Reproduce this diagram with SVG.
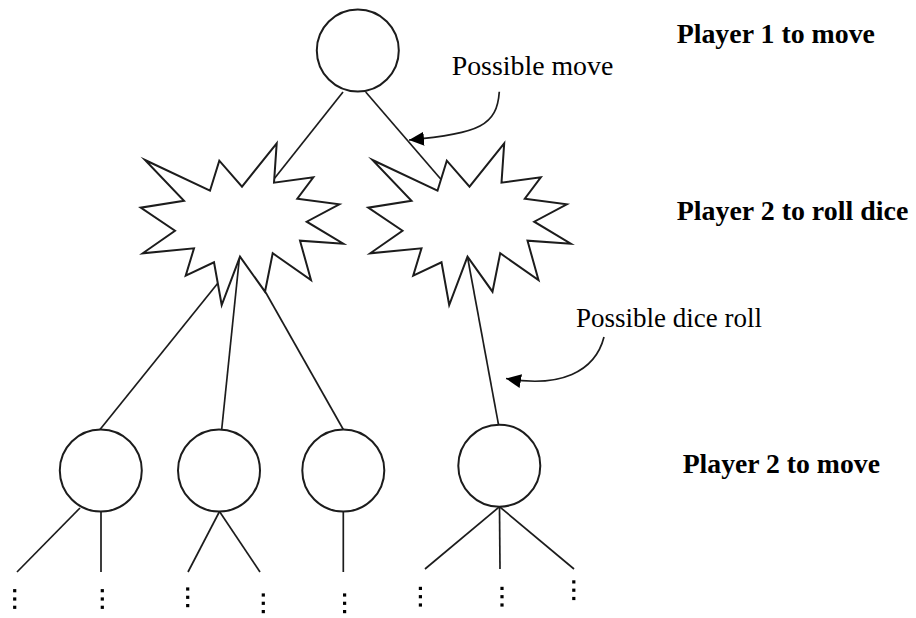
<svg xmlns="http://www.w3.org/2000/svg" xmlns:xlink="http://www.w3.org/1999/xlink" width="916" height="618" viewBox="0 0 916 618">
  <style>
    .edge { stroke: #1c1c1c; stroke-width: 1.7; fill: none; }
    .state { fill: #ffffff; stroke: #1c1c1c; stroke-width: 2; }
    .burst { fill: #ffffff; stroke: #1c1c1c; stroke-width: 2; stroke-linejoin: miter; stroke-miterlimit: 20; }
    .note { stroke: #1c1c1c; stroke-width: 1.7; fill: none; }
    .label { font-family: "Liberation Serif", "Times New Roman", serif; font-size: 27px; fill: #000; }
    .level { font-family: "Liberation Serif", "Times New Roman", serif; font-size: 27px; font-weight: bold; fill: #000; }
    .dot { fill: #000; }
  </style>
  <defs>
    <!-- chance node outline (explosion shape) -->
    <path id="burstShape" d="M145,160 L210,190.7 L219.3,160.7 L242,186.7 L276.7,143.3 L274,182.7 L313.3,177.3 L297.3,198.7 L339.3,204.3 L306.7,221.7 L343.3,243.7 L300,240.7 L311,280 L272.7,253.3 L265,291.7 L240,256.7 L221.7,305 L214,262.3 L185.7,275.7 L194,248.3 L142.7,253.3 L175,230.7 L140.7,207.7 L184,200.7 Z"/>
    <!-- continuation marker: three stacked dots -->
    <g id="vdots">
      <rect class="dot" x="-1.6" y="-9.9" width="3.2" height="3.2"/>
      <rect class="dot" x="-1.6" y="-1.6" width="3.2" height="3.2"/>
      <rect class="dot" x="-1.6" y="6.7" width="3.2" height="3.2"/>
    </g>
    <marker id="arrowHead" markerUnits="userSpaceOnUse" markerWidth="16" markerHeight="14" refX="15" refY="7" orient="auto">
      <path d="M0,0 L15,7 L0,14 Z" fill="#000"/>
    </marker>
  </defs>

  <!-- connectors (drawn first so node fills hide their ends) -->
  <g id="connectors">
    <line class="edge" x1="343" y1="92" x2="270" y2="184"/>
    <line class="edge" x1="365.7" y1="92" x2="445" y2="184"/>
    <line class="edge" x1="222" y1="278" x2="100" y2="429.5"/>
    <line class="edge" x1="239.5" y1="257" x2="221.7" y2="429.5"/>
    <line class="edge" x1="261.2" y1="284.5" x2="343.3" y2="429.5"/>
    <line class="edge" x1="467.5" y1="257" x2="498.5" y2="424.7"/>
    <!-- branches below the lowest level -->
    <line class="edge" x1="80" y1="508" x2="17" y2="572"/>
    <line class="edge" x1="101" y1="511.5" x2="101" y2="572"/>
    <line class="edge" x1="219.5" y1="511.5" x2="188" y2="572"/>
    <line class="edge" x1="219.5" y1="511.5" x2="260" y2="572"/>
    <line class="edge" x1="343.3" y1="511.5" x2="343.3" y2="572"/>
    <line class="edge" x1="499.5" y1="506.7" x2="425" y2="569"/>
    <line class="edge" x1="499.5" y1="506.7" x2="500" y2="569"/>
    <line class="edge" x1="499.5" y1="506.7" x2="574" y2="569"/>
  </g>

  <!-- decision node: player 1 -->
  <g id="p1-root">
    <circle class="state" cx="357.8" cy="50.5" r="41"/>
  </g>

  <!-- chance nodes: player 2 dice rolls -->
  <g id="roll-a">
    <use xlink:href="#burstShape" class="burst"/>
  </g>
  <g id="roll-b">
    <use xlink:href="#burstShape" class="burst" transform="translate(227.5,0)"/>
  </g>

  <!-- decision nodes: player 2 -->
  <g id="p2-a">
    <circle class="state" cx="100.8" cy="470.5" r="41"/>
  </g>
  <g id="p2-b">
    <circle class="state" cx="219" cy="470.5" r="41"/>
  </g>
  <g id="p2-c">
    <circle class="state" cx="343.3" cy="470.5" r="41"/>
  </g>
  <g id="p2-d">
    <circle class="state" cx="499.3" cy="465.7" r="41"/>
  </g>

  <!-- continuation dots -->
  <g id="continuations">
    <use xlink:href="#vdots" x="14.7" y="599"/>
    <use xlink:href="#vdots" x="102.3" y="599"/>
    <use xlink:href="#vdots" x="187.7" y="597.3"/>
    <use xlink:href="#vdots" x="263.3" y="603.3"/>
    <use xlink:href="#vdots" x="344.6" y="603.3"/>
    <use xlink:href="#vdots" x="420.4" y="596.7"/>
    <use xlink:href="#vdots" x="502" y="596.7"/>
    <use xlink:href="#vdots" x="573.8" y="590.2"/>
  </g>

  <!-- callouts -->
  <g id="callout-move">
    <text class="label" x="451.7" y="75" textLength="161.6" lengthAdjust="spacingAndGlyphs">Possible move</text>
    <path class="note" d="M499.3,91.7 C497,125 480,134 409,140" marker-end="url(#arrowHead)"/>
  </g>
  <g id="callout-roll">
    <text class="label" x="576" y="326.7" textLength="186" lengthAdjust="spacingAndGlyphs">Possible dice roll</text>
    <path class="note" d="M604,337 C595,372 560,388 506,378.5" marker-end="url(#arrowHead)"/>
  </g>

  <!-- level captions -->
  <g id="levels">
    <text class="level" x="676.7" y="43.3" textLength="198.3" lengthAdjust="spacingAndGlyphs">Player 1 to move</text>
    <text class="level" x="676.7" y="220" textLength="231.6" lengthAdjust="spacingAndGlyphs">Player 2 to roll dice</text>
    <text class="level" x="682.7" y="473.3" textLength="197.3" lengthAdjust="spacingAndGlyphs">Player 2 to move</text>
  </g>
</svg>
